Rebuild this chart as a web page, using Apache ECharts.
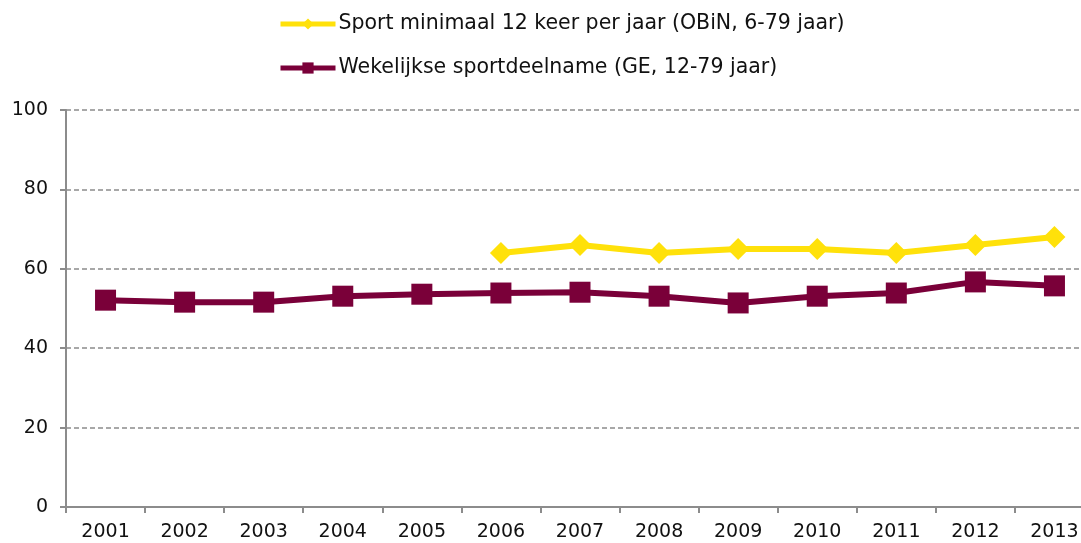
<!DOCTYPE html>
<html>
<head>
<meta charset="utf-8">
<script src="https://cdn.jsdelivr.net/npm/echarts@6/dist/echarts.min.js"></script>
<style>
  html, body { margin: 0; padding: 0; background: #fff; }
  #chart { width: 1081px; height: 543px; }
</style>
</head>
<body>
<div id="chart"></div>
<script>
const years = ["2001", "2002", "2003", "2004", "2005", "2006", "2007", "2008", "2009", "2010", "2011", "2012", "2013"];
const obinName = "Sport minimaal 12 keer per jaar (OBiN, 6-79 jaar)";
const obin = [null, null, null, null, null, 64, 66, 64, 65, 65, 64, 66, 68];
const geName = "Wekelijkse sportdeelname (GE, 12-79 jaar)";
const ge = [52.1, 51.6, 51.6, 53.1, 53.6, 53.9, 54.1, 53.1, 51.4, 53.1, 53.9, 56.7, 55.7];

const font = "DejaVu Sans";
const chart = echarts.init(document.getElementById("chart"));

chart.setOption({
  animation: false,
  textStyle: { fontFamily: font },
  legend: {
    orient: "vertical",
    left: 278,
    top: 12,
    padding: 0,
    itemWidth: 55,
    itemHeight: 14,
    itemGap: 20,
    lineStyle: { width: 5 },
    textStyle: { fontFamily: font, fontSize: 20.5, lineHeight: 24, color: "#111", padding: [0, 0, 0, -2] },
    data: [obinName, geName],
  },
  // the last category runs past the right edge in the original
  grid: { left: 66, width: 1028, top: 110, bottom: 36, outerBoundsMode: "none" },
  xAxis: {
    type: "category",
    data: years,
    boundaryGap: true,
    axisLine: { lineStyle: { color: "#8c8c8c", width: 2 } },
    axisTick: { show: true, length: 6, lineStyle: { color: "#8c8c8c", width: 2 } },
    axisLabel: { color: "#111", fontSize: 19, margin: 16, fontFamily: font },
  },
  yAxis: {
    type: "value",
    min: 0,
    max: 100,
    interval: 20,
    axisLine: { show: true, lineStyle: { color: "#8c8c8c", width: 2 } },
    axisTick: { show: true, length: 6, lineStyle: { color: "#8c8c8c", width: 2 } },
    axisLabel: { color: "#111", fontSize: 19, margin: 18, fontFamily: font },
    splitLine: { show: true, lineStyle: { color: "#8c8c8c", type: [5, 3], width: 1.5 } },
  },
  series: [
    {
      name: obinName,
      type: "line",
      data: obin,
      symbol: "diamond",
      symbolSize: 22,
      itemStyle: { color: "#ffe10a" },
      lineStyle: { color: "#ffe10a", width: 6 },
      z: 3,
    },
    {
      name: geName,
      type: "line",
      data: ge,
      symbol: "rect",
      symbolSize: 21,
      itemStyle: { color: "#7a0039" },
      lineStyle: { color: "#7a0039", width: 6 },
      z: 2,
    },
  ],
});
</script>
</body>
</html>
